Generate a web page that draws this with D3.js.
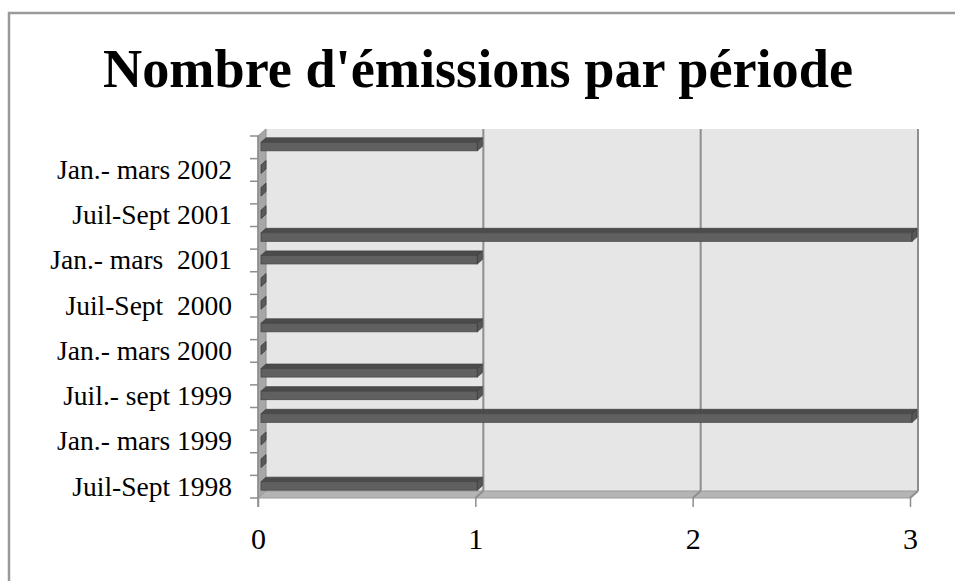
<!DOCTYPE html>
<html><head><meta charset="utf-8">
<script src="https://cdn.jsdelivr.net/npm/d3@7"></script>
<style>
body{margin:0;background:#fff;overflow:hidden}
text{font-family:"Liberation Serif","Times New Roman",serif;white-space:pre}
</style>
</head><body><svg id="c" width="955" height="581"></svg>
<script>
const chartTitle = "Nombre d'émissions par période";
const categories = ["Juil-Sept 1998","Oct.-déc. 1998","Jan.- mars 1999","Avr.-juin 1999","Juil.- sept 1999","Oct.-déc. 1999","Jan.- mars 2000","Avr.-juin 2000","Juil-Sept  2000","Oct.-déc. 2000","Jan.- mars  2001","Avr.-juin 2001","Juil-Sept 2001","Oct.-déc. 2001","Jan.- mars 2002","Avr.-juin 2002"];
const shownLabels = ["Juil-Sept 1998","Jan.- mars 1999","Juil.- sept 1999","Jan.- mars 2000","Juil-Sept  2000","Jan.- mars  2001","Juil-Sept 2001","Jan.- mars 2002"];
const values = [1,0,0,3,1,1,0,1,0,0,1,3,0,0,0,1];
const xTicks = [0,1,2,3];

const svg = d3.select("#c");
const W = 955, H = 581;
const DX = 8, DY = 7;           // depth of the 3D box
const x = d3.scaleLinear().domain([0,3]).range([258,910]);
const y = d3.scaleBand().domain(categories).range([498,136]).padding(0);
const bw = y.bandwidth();
const yTop = y.range()[1], yBot = y.range()[0];
const xL = x(0), xR = x(3);

// outer frame
svg.append("rect").attr("x",9).attr("y",13).attr("width",W+20).attr("height",H+20)
  .attr("fill","none").attr("stroke","#9a9a9a").attr("stroke-width",2.5);

// title
const t = svg.append("text").attr("x",478).attr("y",87).attr("text-anchor","middle")
  .attr("font-weight","bold").attr("font-size",48).attr("fill","#000").text(chartTitle);
const tw = t.node().getComputedTextLength();
t.attr("font-size", 48*750/tw);

// back wall
svg.append("rect").attr("x",xL+DX).attr("y",yTop-DY).attr("width",xR-xL).attr("height",yBot-yTop)
  .attr("fill","#e6e6e6");
// left side wall
svg.append("polygon").attr("points",[[xL,yTop],[xL+DX,yTop-DY],[xL+DX,yBot-DY],[xL,yBot]].join(" "))
  .attr("fill","#a7a7a7").attr("stroke","#8e8e8e").attr("stroke-width",1);
// floor
svg.append("polygon").attr("points",[[xL,yBot],[xL+DX,yBot-DY],[xR+DX,yBot-DY],[xR,yBot]].join(" "))
  .attr("fill","#b4b4b4").attr("stroke","#9a9a9a").attr("stroke-width",1);

// gridlines
const g = svg.append("g").attr("stroke","#8e8e8e").attr("stroke-width",2).attr("fill","none");
xTicks.filter(v=>v>0).forEach(v=>{
  g.append("line").attr("x1",x(v)+DX).attr("x2",x(v)+DX).attr("y1",yTop-DY).attr("y2",yBot-DY);
  g.append("line").attr("x1",x(v)).attr("x2",x(v)+DX).attr("y1",yBot).attr("y2",yBot-DY);
});

// left axis boundary ticks
const lt = svg.append("g").attr("stroke","#8e8e8e").attr("stroke-width",1.5);
categories.forEach(c=>{
  lt.append("line").attr("x1",xL-8).attr("x2",xL).attr("y1",y(c)).attr("y2",y(c));
});
lt.append("line").attr("x1",xL-8).attr("x2",xL).attr("y1",yBot).attr("y2",yBot);
lt.append("line").attr("x1",xL).attr("x2",xL).attr("y1",yTop).attr("y2",yBot+9);

// bars
const BDX = 5, BDY = 4.5;
const bars = svg.append("g");
categories.forEach((c,i)=>{
  const v = values[i];
  const cy = y(c)+bw/2;
  const x0 = xL+3, x1 = v>0 ? x(v)+2 : x0;
  const t0 = cy-5, b0 = cy+3.5;
  if (v>0){
    bars.append("polygon").attr("points",[[x0,t0],[x0+BDX,t0-BDY],[x1+BDX,t0-BDY],[x1,t0]].join(" "))
      .attr("fill","#4b4b4b").attr("stroke","#444").attr("stroke-width",0.8);
    bars.append("rect").attr("x",x0).attr("y",t0).attr("width",x1-x0).attr("height",b0-t0)
      .attr("fill","#606060").attr("stroke","#474747").attr("stroke-width",0.8);
  }
  bars.append("polygon").attr("points",[[x1,t0],[x1+BDX,t0-BDY],[x1+BDX,b0-BDY],[x1,b0]].join(" "))
    .attr("fill", v>0 ? "#575757" : "#5a5a5a").attr("stroke","#3c3c3c").attr("stroke-width",0.8);
});

// x axis
const xa = svg.append("g").attr("transform",`translate(0,${yBot})`)
  .call(d3.axisBottom(x).tickValues(xTicks).tickSize(9).tickPadding(21).tickFormat(d3.format("d")));
xa.attr("font-size",null).attr("font-family",null);
xa.select(".domain").remove();
xa.selectAll("line").attr("stroke","#8e8e8e").attr("stroke-width",1.5);
xa.selectAll("text").attr("font-size",30).style("font-size","30px").attr("fill","#000");

// y axis labels
const ya = svg.append("g").attr("transform",`translate(${xL},0)`)
  .call(d3.axisLeft(y).tickValues(shownLabels).tickSize(0).tickPadding(26));
ya.attr("font-size",null).attr("font-family",null);
ya.select(".domain").remove();
ya.selectAll("text").style("font-size","27.5px").attr("fill","#000");
</script></body></html>
